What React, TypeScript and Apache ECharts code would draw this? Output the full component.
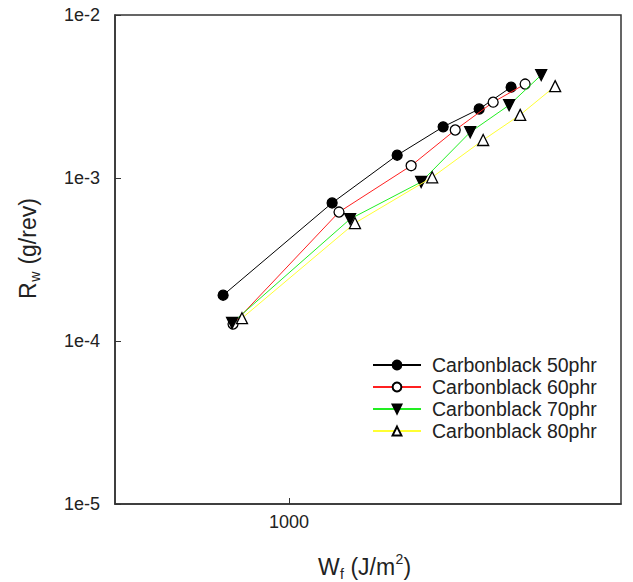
import React, { useEffect, useRef } from "react";
import * as echarts from "echarts";

const seriesNames = ["Carbonblack 50phr", "Carbonblack 60phr", "Carbonblack 70phr", "Carbonblack 80phr"];

const wf50 = [769, 1187, 1538, 1847, 2132, 2421];
const rw50 = [1.91e-4, 7.03e-4, 1.38e-3, 2.06e-3, 2.65e-3, 3.61e-3];
const wf60 = [800, 1220, 1626, 1938, 2254, 2560];
const rw60 = [1.27e-4, 6.18e-4, 1.19e-3, 1.97e-3, 2.92e-3, 3.77e-3];
const wf70 = [797, 1275, 1692, 2057, 2402, 2729];
const rw70 = [1.29e-4, 5.6e-4, 9.45e-4, 1.91e-3, 2.8e-3, 4.28e-3];
const wf80 = [829, 1300, 1768, 2166, 2510, 2885];
const rw80 = [1.38e-4, 5.29e-4, 1.01e-3, 1.71e-3, 2.44e-3, 3.66e-3];

const xTickLabels = [1000];
const yTickLabels = ["1e-2", "1e-3", "1e-4", "1e-5"];

const FONT = "'Liberation Sans', Arial, sans-serif";

function pairs(xs: number[], ys: number[]) {
  return xs.map((x, i) => [x, ys[i]]);
}

export default function App() {
  const ref = useRef<HTMLDivElement>(null);
  useEffect(() => {
    if (!ref.current) return;
    const chart = echarts.init(ref.current, undefined, { renderer: "svg" });
    const lineColors = ["#000000", "#ff2020", "#22ee22", "#ffff33"];
    const data = [pairs(wf50, rw50), pairs(wf60, rw60), pairs(wf70, rw70), pairs(wf80, rw80)];
    const symbols = ["circle", "circle", "triangle", "triangle"];
    const rotates = [0, 0, 180, 0];
    const fills = ["#000", "#fff", "#000", "#fff"];
    const sizes = [10, 10, 11, 11];
    const series = seriesNames.map((name, i) => ({
      name,
      type: "line",
      data: data[i],
      symbol: symbols[i],
      symbolRotate: rotates[i],
      symbolSize: sizes[i],
      showAllSymbol: true,
      lineStyle: { color: lineColors[i], width: 1 },
      itemStyle: { color: fills[i], borderColor: "#000", borderWidth: 1.3 },
      z: 2 + i,
    }));
    const tickLabelStyle = { fontFamily: FONT, fontSize: 18, color: "#222" };
    const t = (text: string, x: number, y: number, size: number) => ({
      type: "text",
      x,
      y,
      style: { text, fontSize: size, fontFamily: FONT, fill: "#222", verticalAlign: "middle" },
    });
    chart.setOption({
      animation: false,
      backgroundColor: "#fff",
      grid: {
        left: 115,
        top: 15,
        right: 12,
        bottom: 78,
        show: true,
        borderColor: "#333",
        borderWidth: 1.5,
        backgroundColor: "transparent",
      },
      xAxis: {
        type: "log",
        logBase: 10,
        min: 500,
        max: 3750,
        axisLine: { show: true, lineStyle: { color: "#333", width: 1.5 } },
        axisTick: { show: true, inside: true, length: 6, lineStyle: { color: "#333" } },
        splitLine: { show: false },
        minorTick: { show: false },
        axisLabel: {
          ...tickLabelStyle,
          margin: 9,
          showMinLabel: false,
          showMaxLabel: false,
          formatter: (v: number) =>
            xTickLabels.some((tv) => Math.abs(tv - v) / tv < 1e-6) ? String(Math.round(v)) : "",
        },
      },
      yAxis: {
        type: "log",
        logBase: 10,
        min: 1e-5,
        max: 1e-2,
        axisLine: { show: true, lineStyle: { color: "#333", width: 1.5 } },
        axisTick: { show: true, inside: true, length: 6, lineStyle: { color: "#333" } },
        splitLine: { show: false },
        axisLabel: {
          ...tickLabelStyle,
          margin: 15,
          formatter: (v: number) => {
            const lbl = "1e" + Math.round(Math.log10(v));
            return yTickLabels.includes(lbl) ? lbl : "";
          },
        },
      },
      legend: {
        orient: "vertical",
        left: 372,
        top: 355,
        padding: 0,
        itemWidth: 48,
        itemHeight: 11,
        itemGap: 2,
        textStyle: { fontFamily: FONT, fontSize: 19.5, color: "#222", lineHeight: 18, padding: [0, 0, 0, 6] },
        data: seriesNames,
      },
      graphic: [
        {
          type: "group",
          x: 318,
          y: 567,
          children: [
            t("W", 0, 0, 23),
            t("f", 22, 7, 14),
            t(" (J/m", 26, 0, 23),
            t("2", 77.5, -8, 14),
            t(")", 85.5, 0, 23),
          ],
        },
        {
          type: "group",
          x: 28,
          y: 299,
          rotation: Math.PI / 2,
          children: [t("R", 0, 0, 23), t("w", 17.2, 7, 14), t(" (g/rev)", 28, 0, 23)],
        },
      ],
      series,
    });
    return () => chart.dispose();
  }, []);
  return <div ref={ref} style={{ position: "fixed", left: 0, top: 0, width: 633, height: 582 }} />;
}
